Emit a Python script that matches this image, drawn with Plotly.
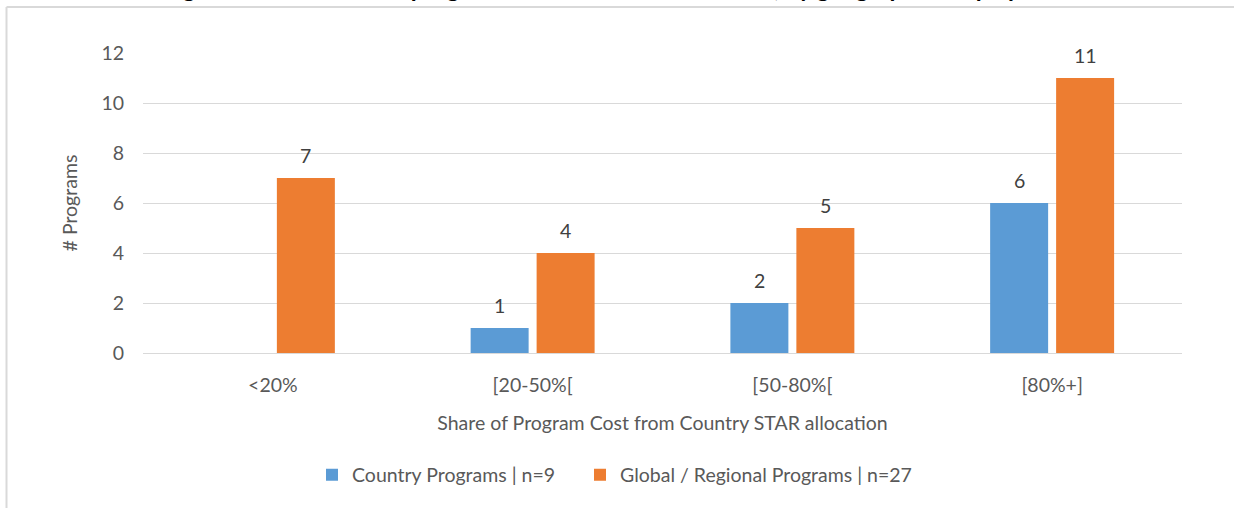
import plotly.graph_objects as go

categories = ["<20%", "[20-50%[", "[50-80%[", "[80%+]"]
country_values = [0, 1, 2, 6]
global_values = [7, 4, 5, 11]
country_labels = ["", "1", "2", "6"]
global_labels = ["7", "4", "5", "11"]
series_names = ["Country Programs | n=9", "Global / Regional Programs | n=27"]
y_ticks = [0, 2, 4, 6, 8, 10, 12]
title_text = "Figure 3: Share of total program cost allocated from STAR, by geographic scope per GSC"

W, H = 1234, 508
ML, MR, MT, MB = 143, 52, 53, 155
FONT = "Lato"
FS = 19.5
BLUE = "#5B9BD5"
ORANGE = "#ED7D31"
GRAY = "#595959"

fig = go.Figure()
fig.add_trace(go.Bar(x=categories, y=country_values, name=series_names[0], legend="legend",
                     marker=dict(color=BLUE, line=dict(width=0))))
fig.add_trace(go.Bar(x=categories, y=global_values, name=series_names[1], legend="legend2",
                     marker=dict(color=ORANGE, line=dict(width=0))))

annotations = []
for cat, v, lab in zip(categories, country_values, country_labels):
    if lab:
        annotations.append(dict(x=cat, y=v, text=lab, xref="x", yref="y", showarrow=False,
                                xshift=-33, yshift=23, yanchor="middle",
                                font=dict(family=FONT, size=FS, color="#404040")))
for cat, v, lab in zip(categories, global_values, global_labels):
    annotations.append(dict(x=cat, y=v, text=lab, xref="x", yref="y", showarrow=False,
                            xshift=33, yshift=23, yanchor="middle",
                            font=dict(family=FONT, size=FS, color="#404040")))

# cropped title at the very top of the image (only its lower edge shows, as in the reference)
annotations.append(dict(x=0.5, y=1, xref="paper", yref="paper", xanchor="center", yanchor="bottom",
                        yshift=MT - 4, showarrow=False, text="<b>" + title_text + "</b>",
                        xshift=-34,
                        font=dict(family=FONT, size=24, color="#000000")))

pw = W - ML - MR
ph = H - MT - MB
shapes = [
    dict(type="line", xref="paper", yref="paper",
         x0=(6.5 - ML) / pw, x1=(W + 5 - ML) / pw, y0=1 + (MT - 7) / ph, y1=1 + (MT - 7) / ph,
         line=dict(color="#D9D9D9", width=2)),
    dict(type="line", xref="paper", yref="paper",
         x0=(6.5 - ML) / pw, x1=(6.5 - ML) / pw, y0=1 + (MT - 7) / ph, y1=-(MB + 5) / ph,
         line=dict(color="#D9D9D9", width=2)),
]

legend_common = dict(orientation="h", xref="container", yref="container", xanchor="left",
                     yanchor="middle", y=1 - 475 / H, bgcolor="rgba(0,0,0,0)",
                     font=dict(family=FONT, size=FS, color=GRAY), itemwidth=30)

fig.update_layout(
    width=W, height=H,
    margin=dict(l=ML, r=MR, t=MT, b=MB, autoexpand=False),
    paper_bgcolor="white", plot_bgcolor="white",
    barmode="group", bargap=0.492, bargroupgap=0.121,
    font=dict(family=FONT, size=FS, color=GRAY),
    showlegend=True,
    legend=dict(x=(352 - 40) / W, **legend_common),
    legend2=dict(x=(620 - 40) / W, **legend_common),
    annotations=annotations,
    shapes=shapes,
    xaxis=dict(showgrid=False, showline=True, linecolor="#D9D9D9", linewidth=1,
               ticks="", tickfont=dict(family=FONT, size=FS, color=GRAY),
               ticklabelstandoff=15,
               title=dict(text="Share of Program Cost from Country STAR allocation",
                          font=dict(family=FONT, size=FS, color=GRAY), standoff=20)),
    yaxis=dict(range=[0, 12], tickvals=y_ticks, showgrid=True, gridcolor="#D9D9D9", gridwidth=1,
               zeroline=False, showline=False, ticks="",
               tickfont=dict(family=FONT, size=FS, color=GRAY),
               ticklabelstandoff=18,
               title=dict(text="# Programs", font=dict(family=FONT, size=FS, color=GRAY),
                          standoff=18)),
)

fig.write_html("out.html", config={"displayModeBar": False},
               post_script="document.body.style.margin='0';document.body.style.overflow='hidden';")
